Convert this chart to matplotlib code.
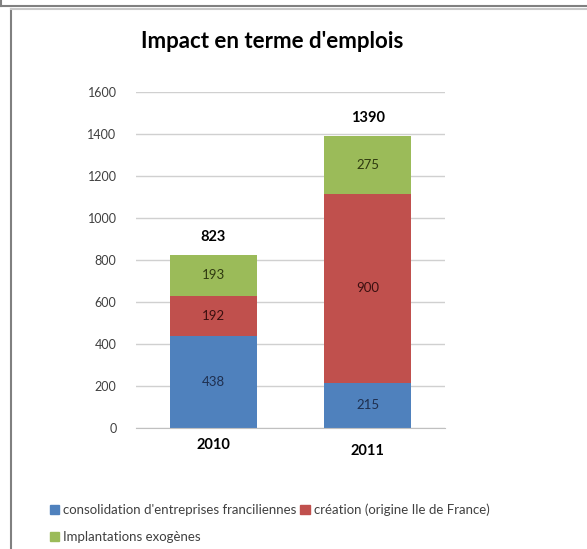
import matplotlib.pyplot as plt
from matplotlib.lines import Line2D
from matplotlib.patches import Patch

plt.rcParams['font.family'] = ['Lato', 'DejaVu Sans']

years = ["2010", "2011"]
consolidation = [438, 215]
creation = [192, 900]
implantations = [193, 275]
totals = [823, 1390]
series_names = ["consolidation d'entreprises franciliennes",
                "création (origine Ile de France)",
                "Implantations exogènes"]
colors = ["#4F81BD", "#C0504D", "#9BBB59"]

fig = plt.figure(figsize=(5.87, 5.49), dpi=100)
W, H = 587, 549

# frame lines of the original screenshot
fig.add_artist(Line2D([0, 1], [1 - 5.5 / H, 1 - 5.5 / H], color="#808080", lw=1.5))
fig.add_artist(Line2D([0.5 / W, 0.5 / W], [1, 1 - 5.5 / H], color="#808080", lw=1.5))
fig.add_artist(Line2D([10.5 / W, 10.5 / W], [0, 1 - 9 / H], color="#808080", lw=1.5))
fig.add_artist(Line2D([10.5 / W, 1], [1 - 9 / H, 1 - 9 / H], color="#C8C8C8", lw=1.5))

ax = fig.add_axes([136 / W, 1 - 428 / H, (445 - 136) / W, (428 - 92) / H])
x = range(len(years))
bw = 0.56
bottom2 = [a + b for a, b in zip(consolidation, creation)]
ax.bar(x, consolidation, bw, color=colors[0], zorder=2)
ax.bar(x, creation, bw, bottom=consolidation, color=colors[1], zorder=2)
ax.bar(x, implantations, bw, bottom=bottom2, color=colors[2], zorder=2)

for i in x:
    ax.text(i, consolidation[i] / 2, str(consolidation[i]), ha="center", va="center",
            fontsize=9.5, color="#1F2F4F")
    ax.text(i, consolidation[i] + creation[i] / 2, str(creation[i]), ha="center", va="center",
            fontsize=9.5, color="#3A1010")
    ax.text(i, bottom2[i] + implantations[i] / 2, str(implantations[i]), ha="center", va="center",
            fontsize=9.5, color="#2F3A10")
    ax.text(i, totals[i] + 55, str(totals[i]), ha="center", va="bottom",
            fontsize=10.5, fontweight="bold", color="black")

ax.set_xlim(-0.5, 1.5)
ax.set_ylim(0, 1600)
ax.set_yticks(range(0, 1601, 200))
ax.yaxis.grid(True, color="#D0D0D0", lw=1, zorder=0)
for s in ["top", "right", "left"]:
    ax.spines[s].set_visible(False)
ax.spines["bottom"].set_color("#C0C0C0")
ax.tick_params(axis="y", length=0, labelsize=9, labelcolor="#404040", pad=14)
ax.tick_params(axis="x", length=0)
ax.set_xticks(list(x))
ax.set_xticklabels([])
offsets = [-12, -16.5]
for i in x:
    ax.annotate(years[i], (i, 0), xytext=(0, offsets[i]), textcoords="offset points",
                ha="center", va="center", fontsize=10.5, fontweight="bold")

fig.text(272 / W, 1 - 42 / H, "Impact en terme d'emplois", ha="center", va="center",
         fontsize=16, fontweight="bold")

# reorder so the legend reads row by row
order = [0, 2, 1]
handles = [Patch(color=colors[k]) for k in order]
labels = [series_names[k] for k in order]
fig.legend(handles, labels, loc="upper left", bbox_to_anchor=(38 / W, 1 - 492 / H),
           ncol=2, frameon=False, fontsize=9.5, handlelength=0.7, handleheight=0.7,
           handletextpad=0.3, columnspacing=0.3, labelspacing=1.1, labelcolor="#404040")

fig.savefig("out.png", dpi=100)
